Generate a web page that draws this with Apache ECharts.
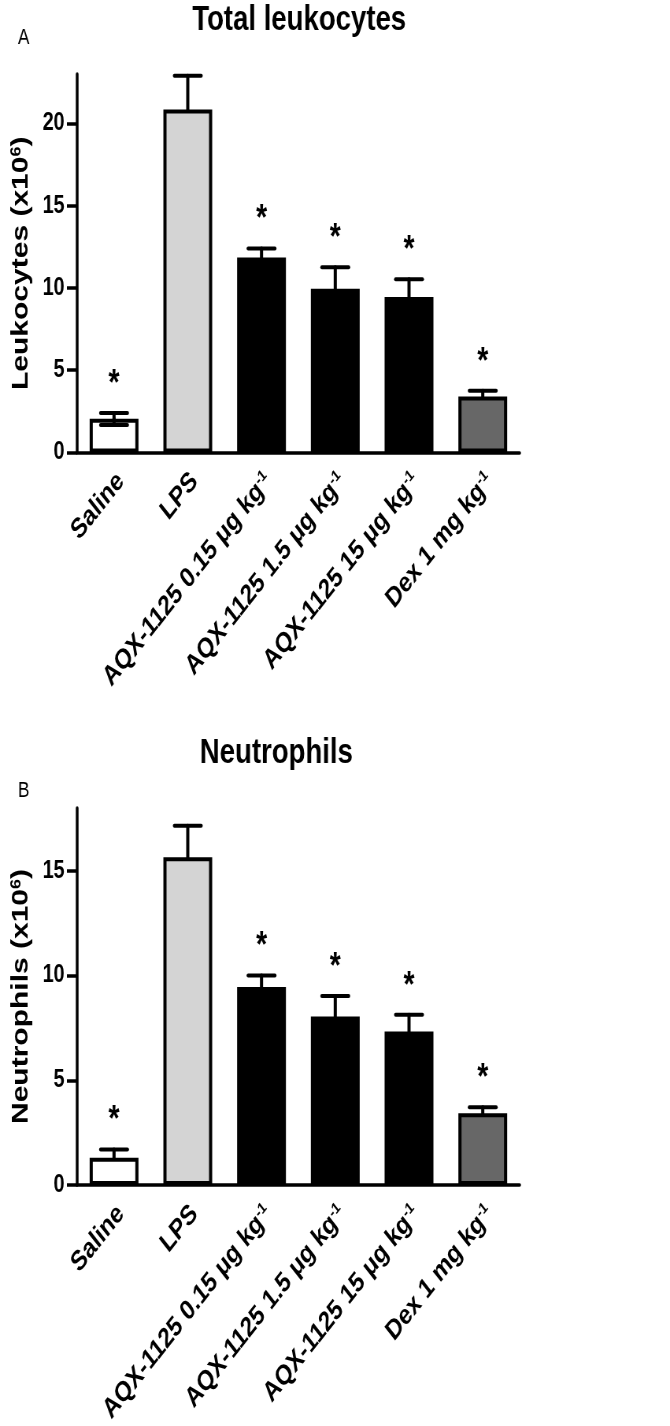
<!DOCTYPE html>
<html><head><meta charset="utf-8">
<script src="https://cdn.jsdelivr.net/npm/echarts@6/dist/echarts.min.js"></script>
<style>
html,body{margin:0;padding:0;background:#fff;overflow:hidden}
#wrap{width:670px;height:1426px;overflow:hidden;position:relative}
#chart{width:851px;height:1426px;transform:scaleX(0.7873);transform-origin:0 0}
</style></head>
<body><div id="wrap"><div id="chart"></div></div>
<script>
// ---- data ----
const categories = ['Saline', 'LPS', 'AQX-1125 0.15 μg kg-1', 'AQX-1125 1.5 μg kg-1', 'AQX-1125 15 μg kg-1', 'Dex 1 mg kg-1'];
const leukMean = [2.05, 20.85, 11.85, 9.95, 9.45, 3.4];
const leukSem = [0.35, 2.05, 0.55, 1.3, 1.08, 0.35];
const leukSemLower = [0.38, 0, 0, 0, 0, 0];
const neutMean = [1.3, 15.65, 9.45, 8.05, 7.33, 3.43];
const neutSem = [0.4, 1.5, 0.55, 0.97, 0.8, 0.28];
const neutSemLower = [0, 0, 0, 0, 0, 0];
const significant = [1, 0, 1, 1, 1, 1];
const leukTicks = [0, 5, 10, 15, 20];
const neutTicks = [0, 5, 10, 15];

// ---- styles ----
const barColors = ['#ffffff', '#d4d4d4', '#000000', '#000000', '#000000', '#676767'];
const FONT = 'Liberation Sans, Arial, sans-serif';

const chart = echarts.init(document.getElementById('chart'), null, {renderer: 'canvas'});

function errRender(params, api) {
  const i = api.value(0), m = api.value(1), s = api.value(2), lo = api.value(3), sig = api.value(4);
  const base = api.coord([i, m]);
  const top = api.coord([i, m + s]);
  const hw = 17;
  const ls = {stroke: '#000', lineWidth: 4, lineCap: 'round'};
  const children = [
    {type: 'line', shape: {x1: base[0], y1: base[1], x2: top[0], y2: top[1]}, style: ls},
    {type: 'line', shape: {x1: top[0] - hw, y1: top[1], x2: top[0] + hw, y2: top[1]}, style: ls}
  ];
  if (lo > 0) {
    const bot = api.coord([i, m - lo]);
    children.push({type: 'line', shape: {x1: base[0], y1: base[1], x2: bot[0], y2: bot[1]}, style: ls});
    children.push({type: 'line', shape: {x1: bot[0] - hw, y1: bot[1], x2: bot[0] + hw, y2: bot[1]}, style: ls});
  }
  if (sig) {
    children.push({type: 'text', style: {text: '*', x: top[0], y: top[1] - 28, textAlign: 'center', textVerticalAlign: 'middle', font: 'bold 36px ' + FONT, fill: '#000'}});
  }
  return {type: 'group', children: children};
}

function errData(mean, sem, lower) {
  return mean.map((m, i) => [i, m, sem[i], lower[i], significant[i]]);
}
function barData(mean) {
  return mean.map((m, i) => ({value: m, itemStyle: {color: barColors[i]}}));
}
const labelFormatter = v => v.replace(/kg-1$/, 'kg{sup|-1}');

function xAxis(gi) {
  return {
    type: 'category', gridIndex: gi, data: categories,
    axisLine: {lineStyle: {color: '#000', width: 3.5}},
    axisTick: {alignWithLabel: true, length: 13, lineStyle: {color: '#000', width: 3.5}},
    axisLabel: {
      rotate: 45, margin: 33, interval: 0, color: '#000', fontFamily: FONT, fontSize: 28, fontWeight: 'bold',
      padding: [0, -12, 0, 0],
      formatter: labelFormatter,
      rich: {sup: {fontSize: 16, fontWeight: 'bold', fontFamily: FONT, color: '#000', verticalAlign: 'top'}}
    }
  };
}
function yAxis(gi, max, ticks, name) {
  return {
    type: 'value', gridIndex: gi, min: 0, max: max, interval: 5,
    name: name, nameLocation: 'middle', nameGap: 56, nameRotate: 90,
    nameTextStyle: {color: '#000', fontFamily: FONT, fontSize: 30, fontWeight: 'bold',
      rich: {sup: {fontSize: 18, fontWeight: 'bold', fontFamily: FONT, color: '#000', verticalAlign: 'top'}}},
    axisLine: {show: true, lineStyle: {color: '#000', width: 3.5}},
    axisTick: {show: true, length: 13, customValues: ticks, lineStyle: {color: '#000', width: 3.5}},
    axisLabel: {customValues: ticks, margin: 16, color: '#000', fontFamily: FONT, fontSize: 25, fontWeight: 'bold'},
    splitLine: {show: false}
  };
}

const option = {
  backgroundColor: '#fff',
  animation: false,
  title: [
    {text: 'Total leukocytes', left: 375, top: -2, textAlign: 'center', textStyle: {fontFamily: FONT, fontSize: 35, fontWeight: 'bold', color: '#000'}},
    {text: 'Neutrophils', left: 346, top: 731, textAlign: 'center', textStyle: {fontFamily: FONT, fontSize: 35, fontWeight: 'bold', color: '#000'}},
    {text: 'A', left: 25, top: 22, textAlign: 'center', textStyle: {fontFamily: FONT, fontSize: 22, fontWeight: 'normal', color: '#000'}},
    {text: 'B', left: 25, top: 775, textAlign: 'center', textStyle: {fontFamily: FONT, fontSize: 22, fontWeight: 'normal', color: '#000'}}
  ],
  grid: [
    {left: 98, top: 74, width: 562, height: 378.5, outerBoundsMode: 'none', containLabel: false},
    {left: 98, top: 808, width: 562, height: 377, outerBoundsMode: 'none', containLabel: false}
  ],
  xAxis: [xAxis(0), xAxis(1)],
  yAxis: [
    yAxis(0, 23, leukTicks, 'Leukocytes (x10{sup|6})'),
    yAxis(1, 18, neutTicks, 'Neutrophils (x10{sup|6})')
  ],
  series: [
    {type: 'bar', xAxisIndex: 0, yAxisIndex: 0, barWidth: 62, data: barData(leukMean),
      itemStyle: {borderColor: '#000', borderWidth: 4}, z: 2},
    {type: 'custom', xAxisIndex: 0, yAxisIndex: 0, renderItem: errRender, data: errData(leukMean, leukSem, leukSemLower),
      encode: {x: 0, y: 1}, clip: false, z: 3},
    {type: 'bar', xAxisIndex: 1, yAxisIndex: 1, barWidth: 62, data: barData(neutMean),
      itemStyle: {borderColor: '#000', borderWidth: 4}, z: 2},
    {type: 'custom', xAxisIndex: 1, yAxisIndex: 1, renderItem: errRender, data: errData(neutMean, neutSem, neutSemLower),
      encode: {x: 0, y: 1}, clip: false, z: 3}
  ]
};
chart.setOption(option);
</script>
</body></html>
